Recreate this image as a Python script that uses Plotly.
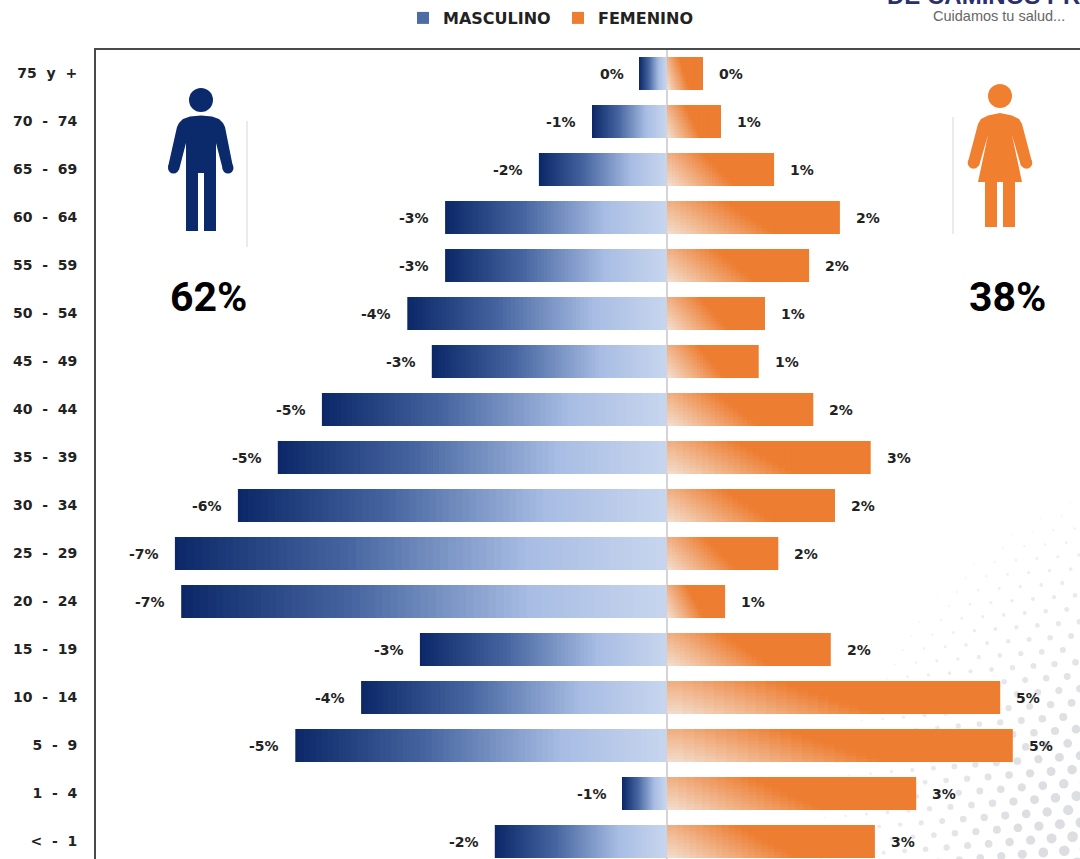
import math
import plotly.graph_objects as go

categories = ["75\u00a0\u00a0y\u00a0\u00a0+", "70\u00a0\u00a0-\u00a0\u00a074", "65\u00a0\u00a0-\u00a0\u00a069", "60\u00a0\u00a0-\u00a0\u00a064",
              "55\u00a0\u00a0-\u00a0\u00a059", "50\u00a0\u00a0-\u00a0\u00a054", "45\u00a0\u00a0-\u00a0\u00a049", "40\u00a0\u00a0-\u00a0\u00a044",
              "35\u00a0\u00a0-\u00a0\u00a039", "30\u00a0\u00a0-\u00a0\u00a034", "25\u00a0\u00a0-\u00a0\u00a029", "20\u00a0\u00a0-\u00a0\u00a024",
              "15\u00a0\u00a0-\u00a0\u00a019", "10\u00a0\u00a0-\u00a0\u00a014", "5\u00a0\u00a0-\u00a0\u00a09", "1\u00a0\u00a0-\u00a0\u00a04", "<\u00a0\u00a0-\u00a0\u00a01"]
masculino = [-0.39, -1.07, -1.83, -3.17, -3.17, -3.71, -3.36, -4.93, -5.56, -6.13, -7.03, -6.94, -3.53, -4.37, -5.31, -0.63, -2.46]
femenino = [0.51, 0.77, 1.53, 2.47, 2.03, 1.40, 1.31, 2.09, 2.91, 2.40, 1.59, 0.83, 2.34, 4.76, 4.94, 3.56, 2.97]
masculino_labels = ["0%", "-1%", "-2%", "-3%", "-3%", "-4%", "-3%", "-5%", "-5%", "-6%", "-7%", "-7%", "-3%", "-4%", "-5%", "-1%", "-2%"]
femenino_labels = ["0%", "1%", "1%", "2%", "2%", "1%", "1%", "2%", "3%", "2%", "2%", "1%", "2%", "5%", "5%", "3%", "3%"]

W, H = 1080, 859
L, T = 96, 50
STEP = 48
FIRST = 73.5
BAR = 33 / STEP
LABEL_FONT = "DejaVu Sans"


def px(x):
    return (x - L) / (W - L)


def py(y):
    return (H - y) / (H - T)


def lerp(stops, t):
    for (a, ca), (b, cb) in zip(stops, stops[1:]):
        if t <= b:
            f = (t - a) / (b - a)
            c = [round(ca[i] + (cb[i] - ca[i]) * f) for i in range(3)]
            return f"rgb({c[0]},{c[1]},{c[2]})"
    c = stops[-1][1]
    return f"rgb({c[0]},{c[1]},{c[2]})"


blue_stops = [(0, (11, 39, 104)), (0.35, (70, 101, 160)), (0.72, (168, 189, 228)), (1, (200, 214, 238))]
orange_stops = [(0, (243, 222, 206)), (1, (237, 125, 49))]

fig = go.Figure()

# Gradient bars: short consecutive segments of each value, tip first, each one
# lapping a little onto the previous so no seams show between them
N = 64
for k in range(N):
    start = 1 - (k + 1) / N
    fig.add_trace(go.Bar(
        base=[v * start for v in masculino],
        x=[v * 1.5 / N if k else v / N for v in masculino],
        y=categories, orientation="h", width=BAR,
        marker=dict(color=lerp(blue_stops, k / N), line_width=0),
        name="MASCULINO", showlegend=(k == 24), hoverinfo="skip"))

ROWS = 11
COLS = 32
for k in range(COLS):
    start = 1 - (k + 1) / COLS
    for j in range(ROWS):
        v_pos = 1 - (j + 0.5) / ROWS
        s = min(1, (start + 0.5 / COLS + 0.3 * v_pos) / 0.62)
        fig.add_trace(go.Bar(
            base=[v * start for v in femenino],
            x=[v * 1.5 / COLS if k else v / COLS for v in femenino],
            y=categories, orientation="h",
            width=BAR / ROWS, offset=-BAR / 2 + j * BAR / ROWS,
            marker=dict(color=lerp(orange_stops, s), line_width=0),
            name="FEMENINO", showlegend=(k == 0 and j == 0), hoverinfo="skip"))

annotations = []
for c, v, t in zip(categories, masculino, masculino_labels):
    annotations.append(dict(x=v, y=c, xref="x", yref="y", text=f"<b>{t}</b>", showarrow=False,
                            xanchor="right", xshift=-14, font=dict(family=LABEL_FONT, size=14, color="#222222")))
for c, v, t in zip(categories, femenino, femenino_labels):
    annotations.append(dict(x=v, y=c, xref="x", yref="y", text=f"<b>{t}</b>", showarrow=False,
                            xanchor="left", xshift=14, font=dict(family=LABEL_FONT, size=14, color="#222222")))

annotations += [
    dict(x=px(208), y=py(297), xref="paper", yref="paper", text="<b>62%</b>", showarrow=False,
         xanchor="center", yanchor="middle", font=dict(family="Roboto", size=41, color="#000000")),
    dict(x=px(1007), y=py(297), xref="paper", yref="paper", text="<b>38%</b>", showarrow=False,
         xanchor="center", yanchor="middle", font=dict(family="Roboto", size=41, color="#000000")),
    dict(x=px(885), y=py(-5), xref="paper", yref="paper", text="<b>DE CAMINOS PR</b>", showarrow=False,
         xanchor="left", yanchor="middle", font=dict(family="Liberation Sans", size=24, color="#2b2f6b")),
    dict(x=px(999), y=py(16), xref="paper", yref="paper", text="Cuidamos tu salud...", showarrow=False,
         xanchor="center", yanchor="middle", font=dict(family="Liberation Sans", size=14.5, color="#666666")),
]


def poly(points):
    return "M " + " L ".join(f"{px(x):.5f},{py(y):.5f}" for x, y in points) + " Z"


def circle(cx, cy, r, color):
    return dict(type="circle", xref="paper", yref="paper", x0=px(cx - r), x1=px(cx + r),
                y0=py(cy + r), y1=py(cy - r), fillcolor=color, line_width=0)


NAVY = "#0b2a6b"
ORANGE = "#f08030"
man = [(186, 231), (198, 231), (198, 173), (204, 173), (204, 231), (216, 231), (216, 143), (223, 170),
       (233, 167), (225, 127), (223, 123), (219, 119), (212, 116.5), (201, 115.5), (190, 116.5), (183, 119),
       (179, 123), (177, 127), (168, 167), (179, 170), (186, 143)]
woman = [(985, 182), (985, 227), (997, 227), (997, 182), (1003, 182), (1003, 227), (1015, 227), (1015, 182),
         (1022, 182), (1012, 135), (1021, 166), (1032, 162), (1022, 124), (1019, 119), (1012, 115.5), (1000, 113),
         (988, 115.5), (981, 119), (978, 124), (968, 162), (979, 166), (988, 135), (978, 182)]

shapes = []
# Halftone backdrop, lower right (decoration only)
cx0, cy0, R = 1250, 900, 440
for i in range(-50, 51):
    for j in range(-50, 51):
        dx = 950 + i * 21 + j * 12.7
        dy = 740 - i * 1.8 + j * 12.3
        d = math.hypot(dx - cx0, dy - cy0)
        if d < R and dx < 1090 and dy < 870:
            r = 0.7 + 0.0185 * (R - d)
            g = min(1, (R - d) / 200)
            shade = f"rgb({round(242 - 22 * g)},{round(243 - 21 * g)},{round(246 - 20 * g)})"
            shapes.append(dict(type="circle", xref="paper", yref="paper", layer="below",
                               x0=px(dx - r), x1=px(dx + r), y0=py(dy + r), y1=py(dy - r),
                               fillcolor=shade, line_width=0))

shapes += [
    dict(type="path", xref="paper", yref="paper", path=poly(man), fillcolor=NAVY, line_width=0),
    circle(201, 100, 12, NAVY), circle(173.5, 168, 5.5, NAVY), circle(228, 168, 5.5, NAVY),
    dict(type="path", xref="paper", yref="paper", path=poly(woman), fillcolor=ORANGE, line_width=0),
    circle(1000, 96, 12, ORANGE), circle(973.5, 163, 5.8, ORANGE), circle(1026.5, 163, 5.8, ORANGE),
    dict(type="line", xref="paper", yref="paper", x0=px(247), x1=px(247), y0=py(121), y1=py(247),
         line=dict(color="#e4e4e4", width=1.5)),
    dict(type="line", xref="paper", yref="paper", x0=px(953), x1=px(953), y0=py(117), y1=py(234),
         line=dict(color="#e4e4e4", width=1.5)),
]

fig.update_layout(
    width=W, height=H, barmode="overlay", paper_bgcolor="white", plot_bgcolor="white",
    margin=dict(l=L, r=0, t=T, b=0), annotations=annotations, shapes=shapes,
    legend=dict(orientation="h", x=px(403), y=py(18), xanchor="left", yanchor="middle",
                entrywidth=110, entrywidthmode="pixels",
                font=dict(family=LABEL_FONT, size=16, color="#222222", weight="bold"),
                itemclick=False, itemdoubleclick=False, bgcolor="rgba(0,0,0,0)", traceorder="normal"),
    xaxis=dict(range=[(L - 667) / 70, (W - 667) / 70], side="top", showgrid=False, showticklabels=False,
               ticks="", showline=True, linecolor="#4a4a4a", linewidth=2, zeroline=True,
               zerolinecolor="#d4d4d4", zerolinewidth=2),
    yaxis=dict(categoryorder="array", categoryarray=categories,
               range=[(H - FIRST) / STEP, (T - FIRST) / STEP],
               showgrid=False, showline=True, linecolor="#4a4a4a", linewidth=2, ticks="outside",
               ticklen=14, tickcolor="rgba(0,0,0,0)",
               tickfont=dict(family=LABEL_FONT, size=14, color="#222222", weight="bold")),
)

fig.write_html("out.html", post_script="document.body.style.margin='0';", config={"displayModeBar": False})
